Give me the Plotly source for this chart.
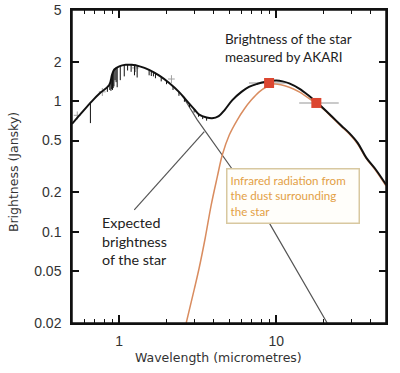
import math
import plotly.graph_objects as go

# ---- data ----
# observed / model total spectrum (black)
total_wl = [0.50, 0.573, 0.664, 0.757, 0.863, 0.90, 0.93, 1.0, 1.1, 1.2, 1.35, 1.55, 1.8, 2.08,
            2.4, 2.67, 3.0, 3.23, 3.6, 3.9, 4.3, 4.7, 5.25, 6.0, 6.7, 7.6, 8.6, 10.0, 11.0,
            12.1, 14.0, 16.0, 17.9, 20.0, 22.7, 26.0, 29.2, 33.0, 37.4, 43.0, 50.0]
total_flux = [0.67, 0.81, 0.99, 1.16, 1.33, 1.60, 1.75, 1.85, 1.90, 1.90, 1.85, 1.74, 1.57, 1.38,
              1.18, 1.02, 0.87, 0.79, 0.75, 0.74, 0.77, 0.86, 1.02, 1.18, 1.29, 1.36, 1.41, 1.44, 1.42,
              1.37, 1.25, 1.11, 0.99, 0.88, 0.76, 0.65, 0.57, 0.48, 0.37, 0.30, 0.23]

# absorption lines in the spectrum: wavelength, continuum level, line bottom
line_wl = [0.655, 0.84, 0.87, 0.885, 0.895, 0.905, 0.915, 0.925, 0.94, 0.955, 0.97, 1.015,
           1.076, 1.13, 1.19, 1.25, 1.30, 1.55, 1.60, 1.65, 1.70, 1.85, 2.0, 2.2, 2.4, 2.6,
           2.8, 3.0, 3.2, 3.4, 3.6]
line_top = [0.99, 1.28, 1.36, 1.45, 1.52, 1.62, 1.68, 1.72, 1.78, 1.82, 1.84, 1.86,
            1.88, 1.90, 1.90, 1.88, 1.86, 1.74, 1.70, 1.66, 1.62, 1.52, 1.43, 1.30, 1.18, 1.06,
            0.96, 0.87, 0.80, 0.77, 0.75]
line_bottom = [0.68, 1.18, 1.22, 1.20, 1.24, 1.22, 1.26, 1.30, 1.45, 1.40, 1.28, 1.45,
               1.55, 1.72, 1.68, 1.58, 1.52, 1.58, 1.56, 1.55, 1.50, 1.42, 1.35, 1.22, 1.10, 0.99,
               0.90, 0.82, 0.76, 0.73, 0.71]

# expected stellar photosphere (grey)
star_wl = [2.6, 3.14, 5.40, 9.02, 21.1]
star_flux = [1.04, 0.72, 0.287, 0.117, 0.020]

# dust emission (orange)
dust_wl = [2.67, 3.00, 3.23, 3.53, 3.85, 4.21, 4.53, 5.02, 5.64, 6.26, 6.93, 7.79, 8.64, 9.71,
           12.1, 14.0, 17.7, 20.0, 22.7, 26.0, 29.2, 33.0, 37.4, 43.0, 50.0]
dust_flux = [0.020, 0.036, 0.053, 0.090, 0.160, 0.263, 0.387, 0.551, 0.718, 0.872, 1.02, 1.18,
             1.285, 1.355, 1.28, 1.18, 0.97, 0.87, 0.75, 0.64, 0.56, 0.47, 0.365, 0.295, 0.225]

# AKARI photometry
akari_wl = [9.0, 18.0]
akari_flux = [1.38, 0.97]
akari_wl_lo = [6.7, 14.0]
akari_wl_hi = [11.6, 25.0]

# other photometry (faint grey crosses)
phot_wl = [0.54, 0.78, 1.27, 2.15]
phot_flux = [0.78, 1.18, 1.80, 1.48]

y_ticks = [0.02, 0.05, 0.1, 0.2, 0.5, 1, 2, 5]
y_tick_text = ["0.02", "0.05", "0.1", "0.2", "0.5", "1", "2", "5"]
x_ticks = [1, 10]
x_tick_text = ["1", "10"]
x_minor = [0.6, 0.7, 0.8, 0.9, 2, 3, 4, 5, 6, 7, 8, 9, 20, 30, 40]

# pointer of "Expected brightness of the star" (from label to curve)
pointer_start = (1.246, 0.147)
pointer_end = (3.48, 0.585)

fig = go.Figure()

# AKARI band widths (drawn under curves)
fig.add_trace(go.Scatter(
    x=akari_wl, y=akari_flux, mode="markers",
    marker=dict(size=1, color="rgba(0,0,0,0)"),
    error_x=dict(type="data", symmetric=False,
                 array=[h - w for h, w in zip(akari_wl_hi, akari_wl)],
                 arrayminus=[w - l for w, l in zip(akari_wl, akari_wl_lo)],
                 color="#b8b8b8", thickness=1.5, width=0),
    hoverinfo="skip", showlegend=False))

fig.add_trace(go.Scatter(
    x=phot_wl, y=phot_flux, mode="markers",
    marker=dict(size=1, color="rgba(0,0,0,0)"),
    error_x=dict(type="percent", value=5, color="#a0a0a0", thickness=1, width=0),
    error_y=dict(type="percent", value=7, color="#a0a0a0", thickness=1, width=0),
    hoverinfo="skip", showlegend=False))

fig.add_trace(go.Scatter(x=star_wl, y=star_flux, mode="lines",
                         line=dict(color="#555555", width=1.2), showlegend=False))

fig.add_trace(go.Scatter(x=dust_wl, y=dust_flux, mode="lines", line_shape="spline",
                         line=dict(color="#d98c5f", width=1.5), showlegend=False))

fig.add_trace(go.Scatter(x=total_wl, y=total_flux, mode="lines", line_shape="spline",
                         line=dict(color="#111111", width=2), showlegend=False))

seg_x, seg_y = [], []
for w, t, b in zip(line_wl, line_top, line_bottom):
    seg_x += [w, w, None]
    seg_y += [t, b, None]
fig.add_trace(go.Scatter(x=seg_x, y=seg_y, mode="lines",
                         line=dict(color="#111111", width=1), showlegend=False))

fig.add_trace(go.Scatter(x=akari_wl, y=akari_flux, mode="markers",
                         marker=dict(symbol="square", size=10, color="#dc4630"),
                         showlegend=False))

fig.add_shape(type="line", xref="x", yref="y",
              x0=pointer_start[0], y0=pointer_start[1], x1=pointer_end[0], y1=pointer_end[1],
              line=dict(color="#555555", width=1.2))
# plot frame
fig.add_shape(type="rect", xref="paper", yref="paper", x0=0, y0=0, x1=1, y1=1,
              line=dict(color="#111111", width=1.5), fillcolor="rgba(0,0,0,0)", layer="above")

text_font = "Lato, 'Open Sans', sans-serif"
fig.add_annotation(xref="paper", yref="paper", x=0.481, y=0.879, xanchor="left", yanchor="middle",
                   text="Brightness of the star<br>measured by AKARI", showarrow=False, align="left",
                   font=dict(family=text_font, size=13.5, color="#222222"))
fig.add_annotation(xref="paper", yref="paper", x=0.09, y=0.262, xanchor="left", yanchor="middle",
                   text="Expected<br>brightness<br>of the star", showarrow=False, align="left",
                   font=dict(family=text_font, size=14.3, color="#222222"))
fig.add_annotation(xref="paper", yref="paper", x=0.705, y=0.407, xanchor="center", yanchor="middle",
                   text="Infrared radiation from<br>the dust surrounding<br>the star", showarrow=False,
                   align="left", width=125, height=47, borderpad=3, borderwidth=1.5,
                   bordercolor="#d8c8a0", bgcolor="#fffefa",
                   font=dict(family=text_font, size=11.6, color="#e3a045"))

axis_font = "'DejaVu Sans', Verdana, sans-serif"
fig.add_annotation(xref="paper", yref="paper", x=-0.188, y=0.482, textangle=-90,
                   xanchor="center", yanchor="middle",
                   text="Brightness (Jansky)", showarrow=False,
                   font=dict(family=axis_font, size=12.5, color="#333333"))
fig.add_annotation(xref="paper", yref="paper", x=0.465, y=-0.11,
                   xanchor="center", yanchor="middle",
                   text="Wavelength (micrometres)", showarrow=False,
                   font=dict(family=axis_font, size=12.5, color="#333333"))

fig.update_xaxes(type="log", range=[math.log10(0.5), math.log10(50)], automargin=False,
                 tickvals=x_ticks, ticktext=x_tick_text, ticks="inside", ticklen=8,
                 tickwidth=1.5, tickcolor="#111111", showline=True, linecolor="#111111", linewidth=1.5,
                 mirror="ticks", showgrid=False, zeroline=False, ticklabelstandoff=4,
                 ticklabeloverflow="allow",
                 minor=dict(tickvals=x_minor, ticks="inside", ticklen=4, tickwidth=1.2,
                            tickcolor="#111111", showgrid=False),
                 tickfont=dict(family="'Liberation Sans', Arial, sans-serif", size=14, color="#333333"))
fig.update_yaxes(type="log", range=[math.log10(0.02), math.log10(5)], automargin=False,
                 tickvals=y_ticks, ticktext=y_tick_text, ticks="inside", ticklen=7,
                 tickwidth=1.5, tickcolor="#111111", showline=True, linecolor="#111111", linewidth=1.5,
                 mirror="ticks", showgrid=False, zeroline=False, ticklabelstandoff=6,
                 ticklabeloverflow="allow",
                 tickfont=dict(family="'Liberation Sans', Arial, sans-serif", size=14, color="#333333"))

fig.update_layout(width=400, height=373, margin=dict(l=72, r=14, t=10, b=50),
                  plot_bgcolor="white", paper_bgcolor="white", showlegend=False)

# remove the browser's default 8px page margin so the figure sits at the window origin
fig.write_html("out.html", config={"displayModeBar": False},
               post_script="document.body.style.margin='0';")
